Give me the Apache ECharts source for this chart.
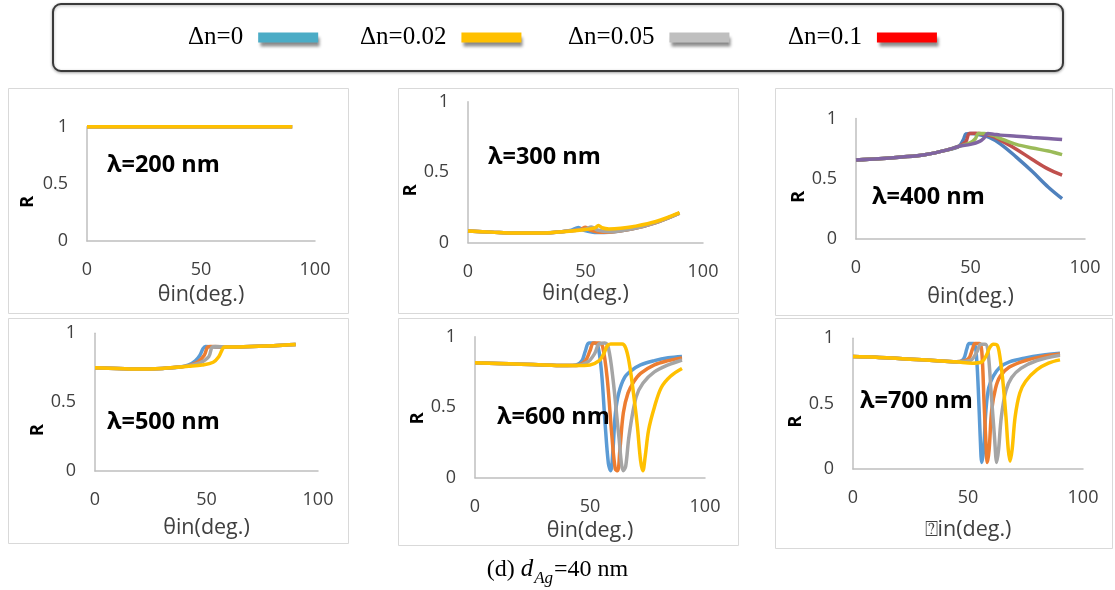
<!DOCTYPE html>
<html>
<head>
<meta charset="utf-8">
<script src="https://cdn.jsdelivr.net/npm/echarts@6/dist/echarts.min.js"></script>
<style>html,body{margin:0;padding:0;background:#fff}#c{width:1115px;height:590px}</style>
</head>
<body>
<div id="c"></div>
<script>
// ---------- text / categories ----------
const seriesNames = ['Δn=0', 'Δn=0.02', 'Δn=0.05', 'Δn=0.1'];
const legendColors = ['#4bacc6', '#ffc000', '#bfbfbf', '#ff0000'];
const panelLabels = ['λ=200 nm', 'λ=300 nm', 'λ=400 nm', 'λ=500 nm', 'λ=600 nm', 'λ=700 nm'];
const xTitles = ['θin(deg.)', 'θin(deg.)', 'θin(deg.)', 'θin(deg.)', 'θin(deg.)', '⍰in(deg.)'];
const yTitle = 'R';
const xTicks = [0, 50, 100];
const yTicks = [0, 0.5, 1];
const captionParts = ['(d) ', 'd', 'Ag', '=40 nm'];

// ---------- data: [theta (deg), R] ----------
// λ = 200 nm
const r200_dn0  = [[0,1],[30,1],[60,1],[90,1]];
const r200_dn02 = [[0,1],[30,1],[60,1],[90,1]];
const r200_dn05 = [[0,1],[30,1],[60,1],[90,1]];
const r200_dn1  = [[0,1],[30,1],[60,1],[90,1]];
// λ = 300 nm
const r300_base = [[0,0.083],[10,0.075],[20,0.068],[30,0.068],[40,0.078]];
const r300_dn0  = [[44,0.088],[47,0.108],[49,0.09],[55,0.072],[60,0.074],[70,0.098],[80,0.143],[90,0.21]];
const r300_dn02 = [[44,0.085],[48,0.094],[50,0.11],[52,0.09],[57,0.074],[62,0.078],[70,0.098],[80,0.143],[90,0.21]];
const r300_dn05 = [[44,0.085],[50,0.095],[52.5,0.112],[55,0.09],[60,0.078],[70,0.099],[80,0.144],[90,0.21]];
const r300_dn1  = [[45,0.085],[50,0.093],[54,0.105],[55.5,0.122],[57,0.106],[60,0.098],[65,0.102],[70,0.113],[80,0.15],[90,0.213]];
// λ = 400 nm
const r400_base = [[0,0.655],[10,0.665],[20,0.68],[30,0.70],[40,0.74],[45,0.77]];
const r400_dn0  = [[47,0.83],[48,0.872],[50,0.875],[54,0.865],[58,0.845],[63,0.79],[70,0.68],[77,0.56],[84,0.43],[90,0.335]];
const r400_dn02 = [[48,0.81],[49.5,0.875],[52,0.877],[56,0.87],[60,0.85],[63,0.82],[70,0.745],[77,0.66],[84,0.58],[90,0.53]];
const r400_dn05 = [[50,0.8],[52,0.83],[53.5,0.875],[56,0.875],[60,0.86],[63,0.835],[70,0.785],[77,0.755],[84,0.73],[90,0.70]];
const r400_dn1  = [[50,0.785],[54,0.81],[56,0.84],[57.5,0.875],[60,0.87],[63,0.862],[70,0.853],[77,0.843],[84,0.835],[90,0.826]];
// λ = 500 nm
const r500_base = [[0,0.75],[10,0.745],[20,0.74],[30,0.745],[38,0.755]];
const r500_dn0  = [[42,0.77],[45,0.8],[47,0.84],[48.5,0.89],[49.5,0.905],[55,0.9],[60,0.9],[70,0.905],[80,0.91],[90,0.918]];
const r500_dn02 = [[42,0.765],[46,0.79],[49,0.84],[50.5,0.9],[52,0.905],[60,0.9],[70,0.905],[80,0.91],[90,0.918]];
const r500_dn05 = [[42,0.765],[47,0.785],[51,0.83],[52.5,0.9],[54,0.905],[60,0.9],[70,0.905],[80,0.91],[90,0.918]];
const r500_dn1  = [[42,0.76],[48,0.77],[53,0.79],[55.5,0.83],[57,0.88],[58,0.9],[60,0.9],[70,0.905],[80,0.91],[90,0.918]];
// λ = 600 nm
const r600_base = [[0,0.815],[10,0.81],[20,0.805],[30,0.8],[40,0.795]];
const r600_dn0  = [[44,0.8],[46.5,0.83],[48,0.9],[49.5,0.955],[52,0.955],[53.5,0.93],[55,0.75],[56.5,0.4],[58,0.1],[59,0.05],[60,0.2],[61,0.45],[62.5,0.6],[65,0.71],[68,0.76],[72,0.8],[78,0.83],[84,0.85],[90,0.86]];
const r600_dn02 = [[44,0.795],[48,0.83],[50,0.9],[51.5,0.955],[54,0.955],[55.5,0.93],[57.5,0.7],[59.5,0.3],[61,0.06],[62,0.05],[63,0.2],[64.5,0.46],[66.5,0.6],[69,0.68],[72,0.74],[78,0.8],[84,0.83],[90,0.85]];
const r600_dn05 = [[44,0.795],[49,0.82],[52,0.88],[54,0.95],[56.5,0.955],[58,0.92],[60,0.7],[62.5,0.3],[64.5,0.05],[65.5,0.08],[67,0.3],[70,0.57],[73,0.67],[78,0.75],[84,0.8],[90,0.835]];
const r600_dn1  = [[44,0.795],[50,0.8],[54,0.83],[56,0.88],[57.5,0.935],[59,0.948],[64,0.948],[65.5,0.92],[67,0.82],[68.5,0.65],[70.5,0.38],[72,0.12],[73,0.05],[74,0.15],[75.5,0.34],[78,0.5],[81,0.64],[85,0.72],[90,0.775]];
// λ = 700 nm
const r700_base = [[0,0.86],[10,0.855],[20,0.845],[30,0.835],[40,0.825],[45,0.82]];
const r700_dn0  = [[48,0.84],[49.5,0.92],[50.5,0.96],[52.5,0.96],[53.5,0.9],[54.5,0.6],[55.3,0.25],[56,0.05],[56.8,0.15],[57.8,0.45],[59,0.62],[61,0.71],[64,0.78],[68,0.82],[75,0.85],[82,0.87],[90,0.885]];
const r700_dn02 = [[50,0.84],[52,0.92],[53,0.96],[55,0.96],[56,0.9],[57,0.5],[57.8,0.2],[58.4,0.05],[59.2,0.15],[60.3,0.45],[62,0.62],[64,0.71],[68,0.78],[75,0.83],[82,0.86],[90,0.88]];
const r700_dn05 = [[51,0.83],[54,0.9],[55.5,0.955],[57.5,0.955],[58.7,0.9],[60,0.6],[61.5,0.25],[62.5,0.05],[63.3,0.15],[64.5,0.4],[66.5,0.6],[69,0.7],[73,0.77],[80,0.83],[90,0.87]];
const r700_dn1  = [[52,0.81],[56,0.82],[58,0.87],[59.5,0.93],[61,0.955],[62.5,0.95],[63.5,0.9],[65,0.7],[66.5,0.4],[67.5,0.15],[68.3,0.06],[69.2,0.15],[70.5,0.4],[72.5,0.58],[75,0.67],[80,0.76],[85,0.81],[90,0.835]];

const panelData = [
  [r200_dn0, r200_dn02, r200_dn05, r200_dn1],
  [r300_base.concat(r300_dn0), r300_base.concat(r300_dn02), r300_base.concat(r300_dn05), r300_base.concat(r300_dn1)],
  [r400_base.concat(r400_dn0), r400_base.concat(r400_dn02), r400_base.concat(r400_dn05), r400_base.concat(r400_dn1)],
  [r500_base.concat(r500_dn0), r500_base.concat(r500_dn02), r500_base.concat(r500_dn05), r500_base.concat(r500_dn1)],
  [r600_base.concat(r600_dn0), r600_base.concat(r600_dn02), r600_base.concat(r600_dn05), r600_base.concat(r600_dn1)],
  [r700_base.concat(r700_dn0), r700_base.concat(r700_dn02), r700_base.concat(r700_dn05), r700_base.concat(r700_dn1)]
];

// ---------- styling / layout ----------
const excel2013 = ['#5b9bd5', '#ed7d31', '#a5a5a5', '#ffc000'];
const excel2010 = ['#4f81bd', '#c0504d', '#9bbb59', '#8064a2'];
const panelColors = [excel2013, excel2013, excel2010, excel2013, excel2013, excel2013];

const layout = [
  {box:[8,88,340,225],   g:[87,126.7,228,114.3],  xGap:43, rGap:50, rShift:18, lab:[107,165]},
  {box:[398,88,340,225], g:[468,101.7,235,141],   xGap:40.5, rGap:38, rShift:18, lab:[488,157]},
  {box:[775,88,337,227], g:[856,118.5,229,120.5], xGap:46.5, rGap:37, rShift:18, lab:[872,197]},
  {box:[8,318,340,225],  g:[95,333.3,223,137.7],  xGap:45.5, rGap:41, rShift:28, lab:[107,422]},
  {box:[398,318,340,227],g:[475,336.7,230,141],   xGap:42.5, rGap:45, rShift:11, lab:[497,417]},
  {box:[775,318,337,230],g:[853,338.3,230,130.7], xGap:49.5, rGap:48, rShift:18, lab:[860,401.7]}
];

const FONT = 'Open Sans';
const grids = [], xAxes = [], yAxes = [], series = [], titles = [], graphics = [];

layout.forEach((L, i) => {
  graphics.push({type:'rect', silent:true, z:-1, shape:{x:L.box[0]+0.5, y:L.box[1]+0.5, width:L.box[2], height:L.box[3]},
    style:{fill:'#fff', stroke:'#d9d9d9', lineWidth:1}});
  grids.push({left:L.g[0], top:L.g[1], width:L.g[2], height:L.g[3], containLabel:false});
  xAxes.push({
    gridIndex:i, type:'value', min:xTicks[0], max:xTicks[xTicks.length-1], interval:xTicks[1]-xTicks[0],
    name:xTitles[i], nameLocation:'middle', nameGap:L.xGap,
    nameTextStyle:{fontFamily:FONT, fontSize:21.5, color:'#404040'},
    axisLine:{show:true, onZero:false, lineStyle:{color:'#bfbfbf', width:1.5}},
    axisTick:{show:false}, splitLine:{show:false},
    axisLabel:{fontFamily:FONT, fontSize:18, color:'#404040', margin:20}
  });
  yAxes.push({
    gridIndex:i, type:'value', min:yTicks[0], max:yTicks[yTicks.length-1], interval:yTicks[1]-yTicks[0],
    name:yTitle, nameLocation:'middle', nameRotate:90, nameGap:L.rGap,
    nameTextStyle:{fontFamily:FONT, fontSize:18, fontWeight:'bold', color:'#000', padding:[0, 2*L.rShift, 0, 0]},
    axisLine:{show:true, lineStyle:{color:'#bfbfbf', width:1.5}},
    axisTick:{show:false}, splitLine:{show:false},
    axisLabel:{fontFamily:FONT, fontSize:18, color:'#404040', margin:19}
  });
  titles.push({text:panelLabels[i], left:L.lab[0], top:L.lab[1]-14, padding:0,
    textStyle:{fontFamily:FONT, fontSize:23.5, fontWeight:'bold', color:'#000', lineHeight:28}});
  panelData[i].forEach((d, k) => {
    series.push({
      name:seriesNames[k], type:'line', xAxisIndex:i, yAxisIndex:i, data:d,
      showSymbol:false, symbol:'none', smooth:0.35, clip:true,
      lineStyle:{color:panelColors[i][k], width:3.5}, itemStyle:{color:panelColors[i][k]},
      emphasis:{disabled:true}, animation:false
    });
  });
});

// caption
titles.push({
  text:'{a|' + captionParts[0] + '}{i|' + captionParts[1] + '}{s|' + captionParts[2] + '}{a|' + captionParts[3] + '}',
  left:'center', top:554, padding:0,
  textStyle:{fontWeight:'normal', rich:{
    a:{fontFamily:'Liberation Serif', fontSize:24, fontWeight:'normal', color:'#000', lineHeight:28, verticalAlign:'bottom'},
    i:{fontFamily:'Liberation Serif', fontSize:25, fontWeight:'normal', fontStyle:'italic', color:'#000', lineHeight:28, verticalAlign:'bottom', padding:[0,1,0,0]},
    s:{fontFamily:'Liberation Serif', fontSize:17, fontWeight:'normal', fontStyle:'italic', color:'#000', lineHeight:22, verticalAlign:'bottom', padding:[0,1,-5,0]}
  }}
});

// legend frame
graphics.push({type:'rect', silent:true, z:-1, shape:{x:53, y:4, width:1010, height:67, r:8},
  style:{fill:'#fff', stroke:'#3a3a3a', lineWidth:2, shadowBlur:3, shadowColor:'rgba(0,0,0,0.3)', shadowOffsetY:1}});

const legendLeft = [188, 360, 568, 788];
const legends = seriesNames.map((n, k) => ({
  left:legendLeft[k], top:25, padding:0, align:'right', selectedMode:false,
  icon:'rect', itemWidth:60, itemHeight:10,
  data:[{name:n, icon:'rect', itemStyle:{color:legendColors[k], shadowBlur:3, shadowColor:'rgba(0,0,0,0.45)', shadowOffsetY:4, shadowOffsetX:2}}],
  lineStyle:{width:0},
  textStyle:{fontFamily:'Liberation Serif', fontSize:25, color:'#000', padding:[0,10,0,0]}
}));

const chart = echarts.init(document.getElementById('c'), null, {renderer:'canvas'});
chart.setOption({
  animation:false,
  backgroundColor:'#fff',
  title:titles,
  legend:legends,
  grid:grids,
  xAxis:xAxes,
  yAxis:yAxes,
  series:series,
  graphic:graphics
});
</script>
</body>
</html>
